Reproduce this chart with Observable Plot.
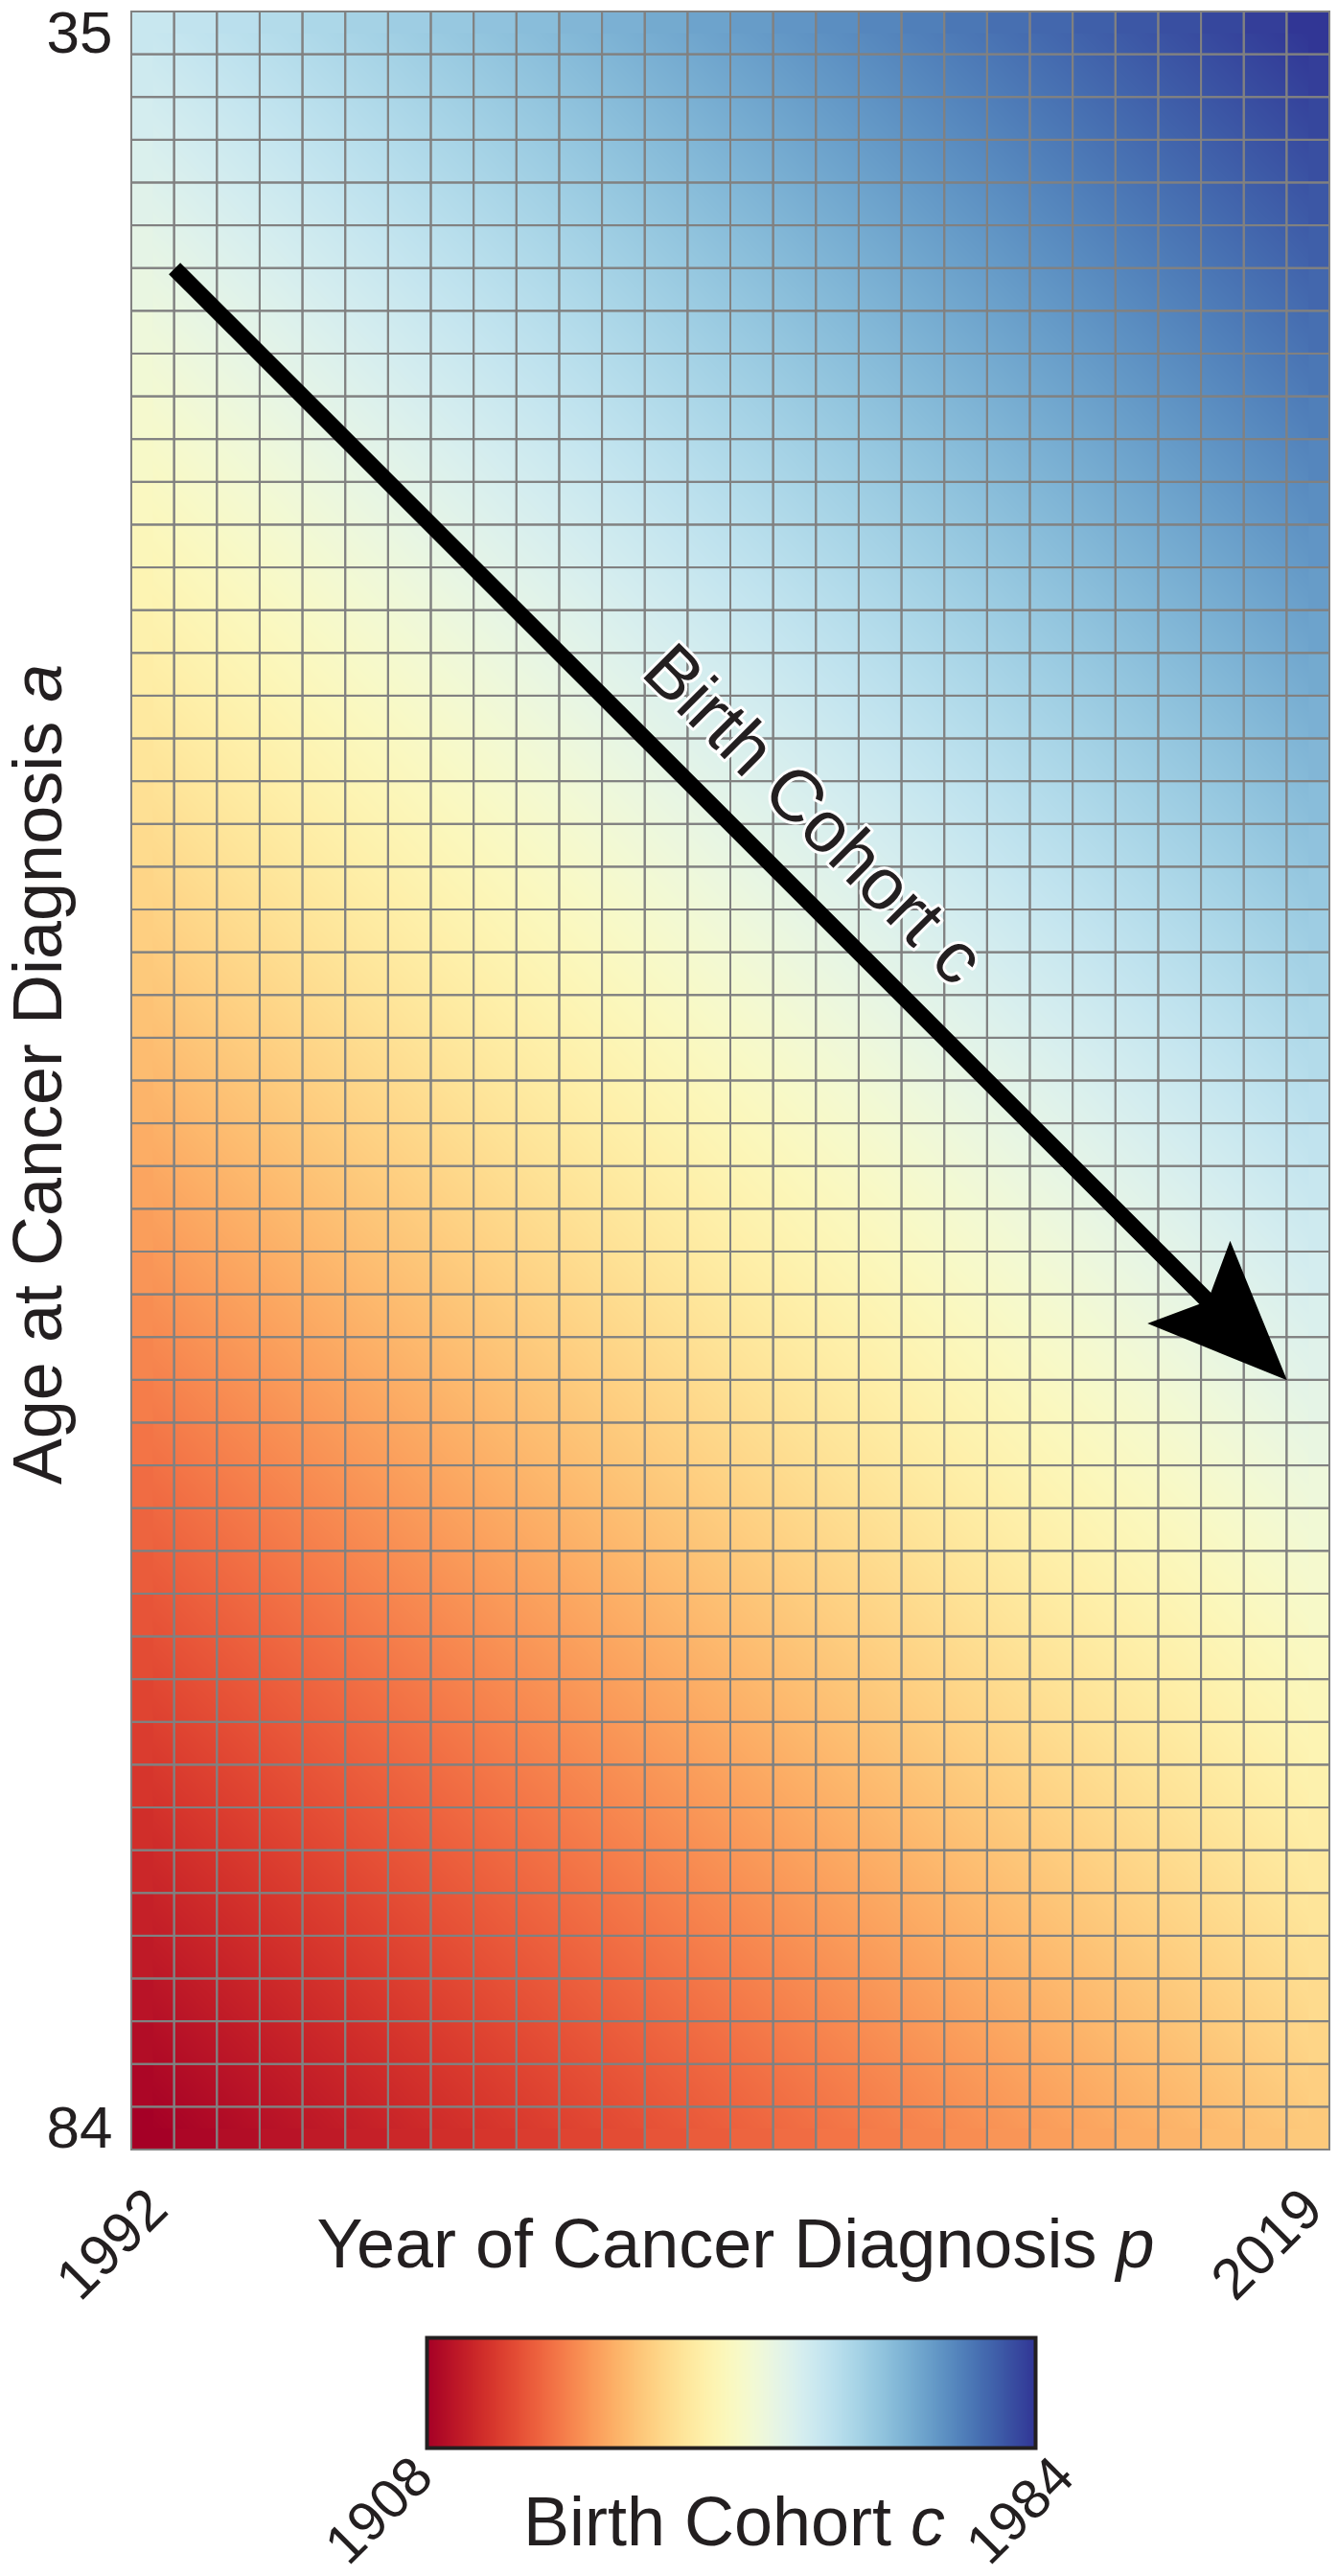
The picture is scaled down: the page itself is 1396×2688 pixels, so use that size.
<!DOCTYPE html>
<html>
<head>
<meta charset="utf-8">
<script src="https://cdn.jsdelivr.net/npm/d3@7"></script>
<script src="https://cdn.jsdelivr.net/npm/@observablehq/plot@0.6"></script>
<style>
  html, body { margin: 0; padding: 0; background: #fff; }
  #chart svg { display: block; }
  text { white-space: pre; }
</style>
</head>
<body>
<div id="chart"></div>
<script>
// ---- data ----------------------------------------------------------------
const years = [1992, 1993, 1994, 1995, 1996, 1997, 1998, 1999, 2000, 2001,
               2002, 2003, 2004, 2005, 2006, 2007, 2008, 2009, 2010, 2011,
               2012, 2013, 2014, 2015, 2016, 2017, 2018, 2019];
const ages = [35, 36, 37, 38, 39, 40, 41, 42, 43, 44, 45, 46, 47, 48, 49,
              50, 51, 52, 53, 54, 55, 56, 57, 58, 59, 60, 61, 62, 63, 64,
              65, 66, 67, 68, 69, 70, 71, 72, 73, 74, 75, 76, 77, 78, 79,
              80, 81, 82, 83, 84];
const yearTicks = [1992, 2019];
const ageTicks = [35, 84];
const cohortTicks = [1908, 1984];

const xLabel = "Year of Cancer Diagnosis p";
const yLabel = "Age at Cancer Diagnosis a";
const arrowLabel = "Birth Cohort c";
const legendTitle = "Birth Cohort c";

// Birth cohort of each cell: c = p - a
const cells = years.flatMap(p => ages.map(a => ({year: p, age: a, cohort: p - a})));

// The annotated cohort arrow (cohort 1952), in data units (cell corners)
const cohortArrow = [{fromYear: 1992.5, fromAge: 40.5, toYear: 2018.5, toAge: 66.5}];
const cohortArrowLabel = [{year: 2006.35, age: 54.35, text: arrowLabel}];

// ---- setup ---------------------------------------------------------------
const FONT = "'Liberation Sans', Arial, Helvetica, sans-serif";
const INK = "#231f20";
const cMin = d3.min(cells, d => d.cohort);
const cMax = d3.max(cells, d => d.cohort);
const color = {type: "linear", scheme: "rdylbu", domain: [cMin, cMax]};

const arrowHead = {
  draw(ctx) {
    ctx.moveTo(0, 0);
    ctx.lineTo(-145, -61);
    ctx.lineTo(-117, 0);
    ctx.lineTo(-145, 61);
    ctx.closePath();
  }
};

const xExt = [d3.min(years) - 0.5, d3.max(years) + 0.5];
const yExt = [d3.min(ages) - 0.5, d3.max(ages) + 0.5];

const main = Plot.plot({
  width: 1396,
  height: 2420,
  marginLeft: 137,
  marginRight: 9,
  marginTop: 12,
  marginBottom: 177,
  style: {fontFamily: FONT, color: INK, background: "#fff", overflow: "visible"},
  x: {domain: xExt},
  y: {domain: yExt, reverse: true},
  color,
  marks: [
    // flat cell colours (visible in the outer half cells)
    Plot.rect(cells, {
      x1: d => d.year - 0.5, x2: d => d.year + 0.5,
      y1: d => d.age - 0.5, y2: d => d.age + 0.5,
      fill: "cohort"
    }),
    // smooth shading between cell centres
    Plot.raster(cells, {
      x: "year", y: "age", fill: "cohort", interpolate: "barycentric",
      x1: d3.min(years), x2: d3.max(years), y1: d3.min(ages), y2: d3.max(ages)
    }),
    // grid
    Plot.rect(cells, {
      x1: d => d.year - 0.5, x2: d => d.year + 0.5,
      y1: d => d.age - 0.5, y2: d => d.age + 0.5,
      fill: "none", stroke: "#818181", strokeWidth: 2
    }),
    Plot.arrow(cohortArrow, {
      x1: "fromYear", y1: "fromAge", x2: "toYear", y2: "toAge",
      stroke: "#000", strokeWidth: 17, headLength: 0, insetEnd: 60,
      strokeLinecap: "butt"
    }),
    Plot.dot(cohortArrow, {
      x: "toYear", y: "toAge", symbol: arrowHead, rotate: 45,
      fill: "#000", stroke: "none"
    }),
    Plot.text(cohortArrowLabel, {
      x: "year", y: "age", text: "text", rotate: 45,
      dx: 48, dy: -48, textAnchor: "middle", lineAnchor: "middle",
      fontSize: 76, fill: INK, stroke: "#fff", strokeWidth: 6
    }),
    Plot.axisY(ageTicks, {
      tickSize: 0, tickPadding: 20, fontSize: 62, label: null, fill: INK,
      tickFormat: d => String(d)
    }),
    Plot.axisX(yearTicks, {
      tickSize: 0, tickPadding: 0, tickRotate: -45, textAnchor: "end",
      lineAnchor: "bottom", dx: 18, dy: 65, fontSize: 60, label: null, fill: INK,
      tickFormat: d => String(d)
    }),
    Plot.text([xLabel], {
      text: d => d, frameAnchor: "bottom", lineAnchor: "bottom",
      dx: 5, dy: 122, fontSize: 72, fill: INK
    }),
    Plot.text([yLabel], {
      text: d => d, frameAnchor: "left", rotate: -90, textAnchor: "middle",
      lineAnchor: "bottom", dx: -74, dy: -7, fontSize: 72, fill: INK
    })
  ]
});

// legend: colour ramp of the birth cohorts
const cohorts = Array.from(new Set(cells.map(d => d.cohort))).sort((a, b) => a - b);
const ramp = cohorts.flatMap(c => [{cohort: c, row: 0}, {cohort: c, row: 1}]);

const legend = Plot.plot({
  width: 1396,
  height: 268,
  marginLeft: 445,
  marginRight: 316,
  marginTop: 19,
  marginBottom: 134,
  style: {fontFamily: FONT, color: INK, background: "#fff", overflow: "visible"},
  x: {domain: [cMin, cMax], axis: null},
  y: {domain: [0, 1], axis: null},
  color,
  marks: [
    Plot.raster(ramp, {
      x: "cohort", y: "row", fill: "cohort", interpolate: "barycentric",
      x1: cMin, x2: cMax, y1: 0, y2: 1
    }),
    Plot.frame({stroke: INK, strokeWidth: 4}),
    Plot.text([cohortTicks[0]], {
      x: d => d, text: d => String(d), frameAnchor: "bottom", rotate: -45,
      textAnchor: "end", lineAnchor: "bottom", dx: 9, dy: 33, fontSize: 58, fill: INK
    }),
    Plot.text([cohortTicks[1]], {
      x: d => d, text: d => String(d), frameAnchor: "bottom", rotate: -45,
      textAnchor: "end", lineAnchor: "bottom", dx: 43, dy: 33, fontSize: 58, fill: INK
    }),
    Plot.text([legendTitle], {
      text: d => d, frameAnchor: "bottom", lineAnchor: "bottom",
      dx: 3, dy: 101, fontSize: 72, fill: INK
    })
  ]
});

// italic variable letters
function italicizeTail(svg, full, tail) {
  svg.querySelectorAll("text").forEach(t => {
    const tr = t.getAttribute("transform") || "";
    if (t.textContent === full && !/rotate\(45\)/.test(tr)) {
      const ns = "http://www.w3.org/2000/svg";
      const a = document.createElementNS(ns, "tspan");
      a.textContent = full.slice(0, full.length - tail.length);
      const b = document.createElementNS(ns, "tspan");
      b.setAttribute("font-style", "italic");
      b.textContent = tail;
      t.textContent = "";
      t.append(a, b);
    }
  });
}
italicizeTail(main, xLabel, "p");
italicizeTail(main, yLabel, "a");
italicizeTail(legend, legendTitle, "c");

const root = document.getElementById("chart");
root.append(main, legend);
</script>
</body>
</html>
